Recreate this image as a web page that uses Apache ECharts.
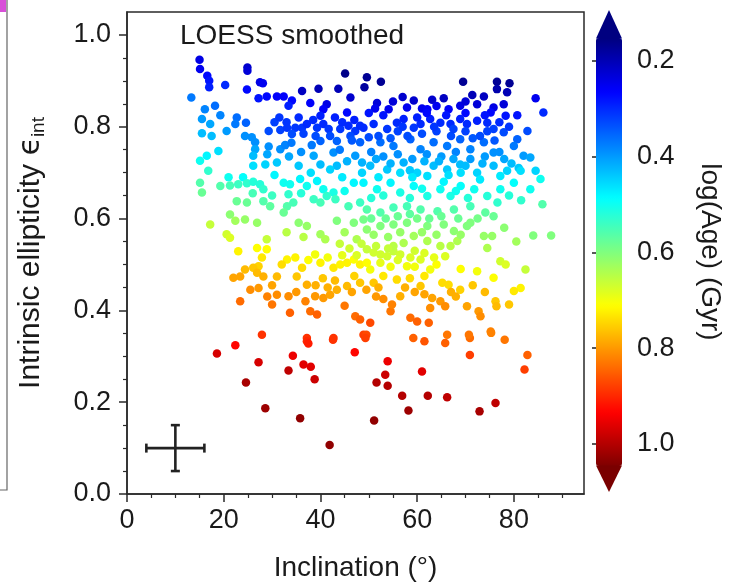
<!DOCTYPE html>
<html>
<head>
<meta charset="utf-8">
<script src="https://cdn.jsdelivr.net/npm/echarts@6/dist/echarts.min.js"></script>
<style>html,body{margin:0;padding:0;background:#fff;}#c{width:729px;height:587px;}</style>
</head>
<body>
<div id="c"></div>
<script>
// [inclination (deg), intrinsic ellipticity, log(Age) (Gyr)]
const bandDarkBlue = [
[15.0,0.946,0.24],[15.1,0.926,0.25],[16.6,0.911,0.27],[17.0,0.900,0.28],[17.0,0.886,0.29],[13.3,0.864,0.37],[20.3,0.891,0.30],[24.9,0.929,0.22],[24.9,0.922,0.23],[24.8,0.881,0.27],[27.5,0.897,0.24],[28.1,0.895,0.25],[27.2,0.862,0.28],[28.9,0.866,0.27],[31.0,0.866,0.26],[32.4,0.866,0.26],[36.2,0.878,0.21],[39.6,0.883,0.20],[43.7,0.883,0.20],[45.1,0.916,0.16],[46.2,0.864,0.22],[49.1,0.886,0.18],[49.6,0.908,0.17],[34.1,0.857,0.27],[33.4,0.846,0.29],[37.9,0.852,0.26],[41.3,0.849,0.24],[40.6,0.838,0.26],[45.5,0.831,0.27],[40.0,0.824,0.29],
[52.5,0.898,0.17],[69.5,0.898,0.17],[76.5,0.898,0.17],[79.1,0.895,0.17],[76.5,0.882,0.19],[78.6,0.875,0.20],[84.5,0.862,0.25],[86.1,0.831,0.30],[71.4,0.869,0.20],[73.8,0.866,0.21],[59.3,0.857,0.22],[63.1,0.859,0.22],[65.5,0.862,0.21],[51.7,0.852,0.23],[51.3,0.840,0.25],[54.1,0.838,0.25],[57.9,0.842,0.25],[61.0,0.840,0.25],[62.1,0.838,0.26],[66.5,0.838,0.26],[68.9,0.846,0.24],[72.4,0.849,0.23],[77.9,0.849,0.23],[75.8,0.842,0.24],[80.7,0.825,0.28],[75.2,0.831,0.27],[78.3,0.824,0.28],
[55.0,0.855,0.23],[57.0,0.865,0.22],[64.0,0.845,0.25],[70.0,0.855,0.23]
];
const bandBlue = [
[18.2,0.846,0.36],[16.1,0.838,0.38],[19.3,0.825,0.38],[15.5,0.817,0.40],[17.2,0.806,0.41],[22.7,0.820,0.36],[22.4,0.806,0.37],[24.6,0.809,0.35],[20.6,0.791,0.40],[15.5,0.786,0.43],[17.5,0.780,0.43],[24.4,0.780,0.39],[25.8,0.777,0.39],[29.3,0.791,0.33],[31.7,0.793,0.32],[33.1,0.798,0.31],[34.8,0.798,0.31],[36.2,0.798,0.31],[34.1,0.784,0.33],[37.2,0.806,0.30],[39.3,0.798,0.31],[40.6,0.806,0.30],[41.7,0.795,0.31],[44.1,0.795,0.31],[45.8,0.802,0.30],[47.2,0.791,0.31],[48.9,0.798,0.30],[26.5,0.766,0.39],[26.5,0.751,0.41],[29.3,0.757,0.39],[31.7,0.751,0.39],[32.7,0.760,0.38],[38.2,0.760,0.37],[40.0,0.769,0.35],[43.4,0.769,0.35],[46.2,0.780,0.33],[48.2,0.766,0.35],[50.0,0.777,0.33],[18.9,0.747,0.46],[16.5,0.737,0.48],[15.1,0.726,0.50],[26.1,0.737,0.43],[28.6,0.718,0.45],[31.0,0.722,0.44],[38.6,0.737,0.41],[40.0,0.718,0.43],[42.7,0.744,0.39],[43.4,0.715,0.43],[47.2,0.737,0.40],[48.6,0.722,0.42],[16.8,0.704,0.53],[26.1,0.715,0.46],[21.0,0.690,0.50],[24.0,0.690,0.49],
[48.2,0.802,0.30],[51.0,0.806,0.30],[53.8,0.795,0.31],[55.8,0.809,0.30],[57.2,0.817,0.29],[59.3,0.798,0.31],[60.7,0.806,0.30],[62.7,0.817,0.29],[64.8,0.809,0.30],[66.9,0.806,0.30],[68.9,0.817,0.29],[70.3,0.806,0.30],[72.4,0.813,0.29],[74.5,0.809,0.30],[75.8,0.795,0.32],[77.9,0.788,0.33],[80.7,0.773,0.35],[82.8,0.791,0.33],[52.4,0.766,0.36],[55.1,0.758,0.37],[58.6,0.773,0.35],[60.7,0.751,0.38],[63.4,0.766,0.36],[66.2,0.758,0.37],[68.9,0.773,0.35],[71.0,0.751,0.38],[73.8,0.766,0.36],[75.8,0.744,0.39],[80.0,0.758,0.37],[82.0,0.737,0.40],[50.3,0.715,0.43],[53.8,0.707,0.44],[57.2,0.722,0.42],[60.0,0.700,0.45],[63.4,0.715,0.43],[66.2,0.707,0.44],[68.9,0.718,0.43],[72.4,0.700,0.45],[75.8,0.715,0.43],[78.6,0.704,0.45],[83.4,0.733,0.41],[84.5,0.704,0.45],
[30.5,0.810,0.32],[35.5,0.820,0.30],[38.5,0.815,0.30],[43.0,0.820,0.29],[47.0,0.815,0.29],[50.0,0.830,0.28],[53.0,0.825,0.28],[56.0,0.790,0.32],[58.0,0.780,0.33],[61.0,0.785,0.33],[64.0,0.790,0.32],[67.0,0.780,0.33],[70.0,0.790,0.32],[73.0,0.780,0.33],[76.0,0.770,0.34],[79.0,0.800,0.31],[62.0,0.830,0.27],[66.0,0.825,0.28],[70.0,0.830,0.27],[74.0,0.825,0.28],[44.0,0.750,0.37],[36.0,0.745,0.39],[34.0,0.765,0.37],[50.5,0.745,0.38],[53.0,0.735,0.39],[56.0,0.740,0.39],[59.0,0.730,0.40],[62.0,0.740,0.39],[65.0,0.735,0.40],[68.0,0.745,0.38],[71.0,0.730,0.40],[74.0,0.735,0.40],[78.0,0.730,0.41],[81.0,0.710,0.44],
[31.5,0.820,0.31],[33.0,0.810,0.31],[36.5,0.785,0.32],[39.0,0.780,0.33],[42.0,0.780,0.33],[44.5,0.810,0.30],[46.5,0.770,0.34],[52.0,0.780,0.33],[54.5,0.775,0.34],[57.0,0.800,0.31],[60.0,0.820,0.29],[63.5,0.800,0.31],[67.5,0.795,0.32],[71.5,0.775,0.34],[74.5,0.790,0.32],[77.0,0.810,0.30],
[29.0,0.740,0.41],[33.5,0.735,0.41],[35.5,0.715,0.44],[45.5,0.725,0.42],[51.5,0.730,0.41],[54.5,0.720,0.42],[58.5,0.705,0.44],[61.5,0.725,0.42],[64.5,0.725,0.42],[67.5,0.730,0.41],[70.0,0.715,0.43],[73.5,0.720,0.42],[77.0,0.745,0.39],[79.5,0.720,0.43]
];
const bandCyan = [
[15.1,0.678,0.56],[15.5,0.657,0.58],[19.3,0.671,0.56],[21.3,0.672,0.55],[23.0,0.675,0.54],[24.8,0.677,0.53],[26.1,0.680,0.52],[27.5,0.675,0.52],[28.2,0.664,0.53],[32.4,0.678,0.50],[33.7,0.675,0.50],[35.8,0.686,0.48],[37.2,0.671,0.50],[33.4,0.653,0.53],[39.3,0.682,0.48],[40.6,0.664,0.50],[42.7,0.657,0.51],[42.0,0.707,0.45],[46.9,0.678,0.48],[48.6,0.700,0.45],[22.7,0.638,0.58],[24.8,0.635,0.58],[28.2,0.638,0.56],[29.6,0.627,0.57],[33.1,0.627,0.56],[32.4,0.613,0.58],[34.4,0.635,0.55],[38.6,0.642,0.54],[40.0,0.635,0.55],[41.3,0.649,0.53],[43.1,0.642,0.54],[45.8,0.627,0.55],[48.2,0.635,0.54],
[85.5,0.686,0.50],[85.9,0.631,0.56],[49.6,0.620,0.56],[52.4,0.613,0.56],[55.1,0.624,0.55],[57.9,0.627,0.55],[60.7,0.620,0.56],[64.2,0.616,0.56],[67.6,0.620,0.56],[71.0,0.627,0.55],[74.1,0.613,0.57],[75.8,0.605,0.58],[48.9,0.678,0.48],[51.7,0.664,0.50],[54.5,0.678,0.48],[56.5,0.657,0.51],[59.3,0.671,0.49],[62.1,0.649,0.51],[64.8,0.664,0.50],[66.9,0.649,0.51],[69.0,0.671,0.49],[71.8,0.664,0.50],[74.5,0.649,0.52],[76.6,0.635,0.53],[77.2,0.664,0.50],[80.0,0.678,0.49],[83.4,0.664,0.50],[56.5,0.700,0.46],[62.1,0.693,0.46],[69.0,0.700,0.46],[77.2,0.693,0.47],[81.4,0.704,0.46],
[45.0,0.660,0.50],[50.5,0.645,0.52],[53.0,0.650,0.52],[58.5,0.645,0.52],[61.0,0.665,0.50],[65.5,0.680,0.48],[68.0,0.660,0.50],[70.5,0.645,0.52],[73.0,0.685,0.47],[79.0,0.650,0.52],[81.5,0.640,0.53],[52.0,0.690,0.47],[59.0,0.690,0.47],[66.5,0.695,0.46],[30.5,0.695,0.48],[38.0,0.700,0.46],[44.5,0.690,0.47],[36.0,0.655,0.52],[30.0,0.650,0.54],[26.0,0.655,0.55]
];
const bandGreen = [
[17.2,0.587,0.66],[21.3,0.609,0.61],[24.4,0.598,0.62],[26.9,0.591,0.62],[22.4,0.595,0.63],[20.6,0.566,0.67],[21.3,0.558,0.68],[28.9,0.555,0.66],[35.5,0.591,0.61],[37.2,0.584,0.62],[40.0,0.566,0.63],[41.0,0.555,0.64],[43.4,0.595,0.60],[46.9,0.591,0.60],[48.9,0.598,0.59],
[84.0,0.563,0.60],[87.7,0.563,0.60],[71.0,0.591,0.60],[73.8,0.562,0.62],[75.5,0.562,0.62],[74.5,0.536,0.64],[49.6,0.576,0.61],[52.4,0.584,0.60],[55.1,0.587,0.60],[57.9,0.591,0.60],[62.1,0.584,0.60],[65.5,0.587,0.60],[67.6,0.573,0.61],[70.3,0.584,0.60],[49.6,0.533,0.66],[51.0,0.526,0.67],[52.4,0.522,0.67],[53.8,0.518,0.67],[55.1,0.529,0.66],[56.5,0.522,0.67],[58.6,0.515,0.68],[60.7,0.511,0.68],[62.7,0.489,0.70],[57.9,0.496,0.70],[52.4,0.504,0.69],[50.3,0.489,0.70],[55.1,0.540,0.65],[57.2,0.547,0.64],[59.3,0.562,0.63],[62.1,0.551,0.64],[64.8,0.540,0.65],[66.9,0.540,0.65],[68.3,0.551,0.64],
[45.0,0.570,0.63],[47.5,0.555,0.64],[44.0,0.545,0.66],[60.0,0.600,0.59],[64.0,0.565,0.62],[78.0,0.580,0.61],[80.5,0.550,0.63],[33.0,0.570,0.65],[36.5,0.560,0.65],
[50.5,0.600,0.58],[53.5,0.600,0.58],[56.0,0.605,0.58],[58.5,0.610,0.57],[62.5,0.600,0.58],[65.0,0.605,0.58],[68.5,0.600,0.58],[72.5,0.600,0.59],[51.0,0.565,0.62],[54.0,0.560,0.62],[56.5,0.570,0.62],[61.0,0.570,0.62],[69.0,0.565,0.62]
];
const bandYellow = [
[23.0,0.529,0.72],[26.9,0.536,0.71],[28.9,0.533,0.71],[27.9,0.515,0.73],[27.2,0.496,0.75],[33.1,0.511,0.72],[34.8,0.515,0.72],[36.2,0.493,0.74],[38.9,0.522,0.70],[40.0,0.504,0.72],[42.7,0.493,0.73],[44.1,0.500,0.72],[45.5,0.504,0.72],[46.9,0.511,0.71],[48.2,0.500,0.72],[49.6,0.504,0.71],[22.0,0.471,0.79],[23.4,0.474,0.79],[24.4,0.489,0.77],[26.1,0.493,0.76],[26.9,0.482,0.77],[28.2,0.474,0.78],[31.0,0.474,0.77],[35.1,0.474,0.76],[37.2,0.456,0.78],
[82.4,0.489,0.66],[77.2,0.507,0.67],[78.3,0.500,0.68],[81.4,0.449,0.72],[80.0,0.442,0.73],[72.4,0.485,0.70],[75.8,0.471,0.71],[65.8,0.518,0.68],[65.2,0.460,0.74],[66.5,0.456,0.74],[68.9,0.445,0.75],[60.7,0.453,0.76],[55.8,0.467,0.74],[56.5,0.431,0.78],
[53.0,0.475,0.73],[58.5,0.470,0.74],[61.5,0.475,0.73],[64.0,0.500,0.71],[69.0,0.490,0.71],[47.0,0.475,0.75],[51.0,0.460,0.76],[43.0,0.465,0.77],[40.5,0.470,0.76],[32.0,0.500,0.74],[30.0,0.455,0.79],
[46.0,0.535,0.67],[47.5,0.520,0.68],[48.5,0.545,0.66],[51.5,0.540,0.66],[54.0,0.535,0.66],[56.0,0.510,0.68],[59.5,0.530,0.67],[61.5,0.525,0.68],[63.5,0.515,0.69],[54.5,0.495,0.70],[59.5,0.495,0.70],[44.5,0.520,0.69],[41.5,0.515,0.70],[37.5,0.510,0.71]
];
const bandOrange = [
[27.2,0.449,0.80],[31.0,0.434,0.81],[30.0,0.413,0.83],[33.4,0.431,0.81],[23.4,0.420,0.84],[36.9,0.420,0.82],[38.9,0.431,0.80],[40.6,0.427,0.80],[42.0,0.434,0.79],[43.4,0.445,0.78],[45.5,0.453,0.77],[48.2,0.460,0.76],[33.7,0.395,0.85],[37.9,0.398,0.84],[39.3,0.391,0.85],[47.2,0.387,0.84],[48.2,0.380,0.85],
[76.2,0.420,0.76],[76.4,0.409,0.77],[79.0,0.413,0.76],[70.3,0.409,0.79],[72.7,0.398,0.80],[73.1,0.387,0.81],[63.1,0.427,0.79],[64.8,0.420,0.80],[65.8,0.409,0.81],[62.7,0.405,0.81],[58.6,0.384,0.84],[60.0,0.376,0.85],[62.4,0.373,0.85],[50.3,0.373,0.87],[54.5,0.398,0.83],[54.8,0.413,0.82],
[51.5,0.430,0.80],[52.0,0.450,0.78],[45.0,0.410,0.83],[68.0,0.430,0.78],
[39.0,0.455,0.78],[41.5,0.450,0.78],[46.5,0.440,0.79],[49.5,0.445,0.79],[53.0,0.425,0.81],[57.5,0.450,0.78],[59.5,0.440,0.79],[61.5,0.435,0.79],[67.0,0.440,0.78],[71.5,0.455,0.76],[74.0,0.440,0.77],[35.0,0.440,0.80],[29.0,0.430,0.82],[25.5,0.445,0.81]
];
const bandRed = [
[27.9,0.347,0.89],[37.2,0.340,0.89],[42.7,0.340,0.89],[48.9,0.347,0.88],[22.4,0.324,0.93],[18.6,0.306,0.97],[27.2,0.287,0.97],[24.6,0.243,1.01],[28.6,0.187,1.02],[33.4,0.269,0.99],[34.3,0.301,0.95],[36.5,0.282,0.96],[38.0,0.277,0.96],[37.2,0.333,0.90],[37.5,0.328,0.91],[38.8,0.250,0.98],[35.8,0.165,1.03],[42.6,0.336,0.89],[41.9,0.107,1.03],[47.1,0.309,0.93],[49.5,0.347,0.87],[49.3,0.340,0.88],[53.9,0.289,0.95],[53.4,0.260,0.98],[51.6,0.243,1.00],[53.9,0.236,1.00],[51.1,0.160,1.03],[56.9,0.214,1.00],[58.2,0.182,1.02],[61.0,0.267,0.96],[62.2,0.214,1.00],[66.2,0.211,0.99],[72.9,0.180,1.01],[76.2,0.198,0.99],[59.2,0.340,0.85],[61.5,0.333,0.86],[66.2,0.347,0.83],[65.8,0.329,0.85],[70.9,0.340,0.84],[70.9,0.303,0.88],[75.3,0.351,0.82],[78.1,0.336,0.83],[82.8,0.303,0.85],[82.2,0.271,0.88],[70.7,0.347,0.83],[75.2,0.354,0.82]
];
// typical uncertainty cross
const errX = [10];
const errY = [0.1];
const errDx = [6];
const errDy = [0.05];

const xMajorTicks = [0, 20, 40, 60, 80];
const xMinorTicks = [5, 10, 15, 25, 30, 35, 45, 50, 55, 65, 70, 75, 85, 90];
const yMajorTicks = [0, 0.2, 0.4, 0.6, 0.8, 1.0];
const yMinorTicks = [0.05, 0.1, 0.15, 0.25, 0.3, 0.35, 0.45, 0.5, 0.55, 0.65, 0.7, 0.75, 0.85, 0.9, 0.95];
const cbTicks = [0.2, 0.4, 0.6, 0.8, 1.0];

const points = [].concat(bandDarkBlue, bandBlue, bandCyan, bandGreen, bandYellow, bandOrange, bandRed);
const errorBars = errX.map((x, i) => [x, errY[i], errDx[i], errDy[i]]);

const FONT = '"Liberation Sans", Arial, Helvetica, sans-serif';
const TXT = '#1a1a1a';
const AX = '#2a2a2a';
const jet = ['#00007F','#0000FF','#007FFF','#00FFFF','#7FFF7F','#FFFF00','#FF7F00','#FF0000','#7F0000'];
const CB = {left: 596, top: 38, width: 26, height: 428, min: 0.152, max: 1.046};

const chart = echarts.init(document.getElementById('c'), null, {renderer: 'canvas'});
chart.setOption({
  animation: false,
  backgroundColor: '#fff',
  textStyle: {fontFamily: FONT, color: TXT},
  grid: [
    {left: 127, top: 12, width: 457, height: 482, show: true, borderColor: AX, borderWidth: 1.5, backgroundColor: 'transparent'},
    {left: CB.left, top: CB.top, width: CB.width, height: CB.height, show: false}
  ],
  xAxis: [
    {gridIndex: 0, type: 'value', position: 'bottom', min: 0, max: 94.5,
      name: 'Inclination (°)', nameLocation: 'middle', nameGap: 60,
      nameTextStyle: {fontSize: 28, color: TXT, fontFamily: FONT},
      axisLine: {show: true, lineStyle: {color: AX, width: 1.5}},
      axisTick: {show: true, length: 8, customValues: xMajorTicks, lineStyle: {color: AX, width: 1.5}},
      axisLabel: {customValues: xMajorTicks, fontSize: 27, color: TXT, margin: 13, fontFamily: FONT},
      splitLine: {show: false}},
    {gridIndex: 0, type: 'value', position: 'bottom', min: 0, max: 94.5,
      axisLine: {show: false},
      axisTick: {show: true, length: 4, customValues: xMinorTicks, lineStyle: {color: AX, width: 1.2}},
      axisLabel: {show: false}, splitLine: {show: false}},
    {gridIndex: 1, type: 'value', show: false, min: 0, max: 1}
  ],
  yAxis: [
    {gridIndex: 0, type: 'value', position: 'left', min: 0, max: 1.05,
      name: 'Intrinsic ellipticity {eps|ϵ}{sub|int}', nameLocation: 'middle', nameGap: 79,
      nameTextStyle: {fontSize: 30, color: TXT, fontFamily: FONT,
        rich: {eps: {fontSize: 30, fontFamily: '"DejaVu Sans", sans-serif', color: TXT},
               sub: {fontSize: 19, color: TXT, fontFamily: FONT, padding: [15, 0, 0, 0]}}},
      axisLine: {show: true, lineStyle: {color: AX, width: 1.5}},
      axisTick: {show: true, length: 8, customValues: yMajorTicks, lineStyle: {color: AX, width: 1.5}},
      axisLabel: {customValues: yMajorTicks, fontSize: 27, color: TXT, margin: 16, fontFamily: FONT,
        formatter: v => v.toFixed(1)},
      splitLine: {show: false}},
    {gridIndex: 0, type: 'value', position: 'left', min: 0, max: 1.05,
      axisLine: {show: false},
      axisTick: {show: true, length: 4, customValues: yMinorTicks, lineStyle: {color: AX, width: 1.2}},
      axisLabel: {show: false}, splitLine: {show: false}},
    {gridIndex: 1, type: 'value', position: 'right', inverse: true, min: CB.min, max: CB.max, z: 10,
      name: 'log(Age) (Gyr)', nameLocation: 'middle', nameRotate: -90, nameGap: 74,
      nameTextStyle: {fontSize: 28, color: TXT, fontFamily: FONT},
      axisLine: {show: false},
      axisTick: {show: true, inside: true, length: 4, customValues: cbTicks, lineStyle: {color: '#222', width: 1.5}},
      axisLabel: {customValues: cbTicks, fontSize: 27, color: TXT, margin: 15, fontFamily: FONT,
        formatter: v => v.toFixed(1)},
      splitLine: {show: false}}
  ],
  visualMap: [{
    type: 'continuous', seriesIndex: 0, dimension: 2, min: CB.min, max: CB.max,
    orient: 'vertical', inverse: true, calculable: false, hoverLink: false,
    left: CB.left, top: CB.top, itemWidth: CB.width, itemHeight: CB.height, padding: 0,
    inRange: {color: jet}, z: 4
  }],
  graphic: [
    {type: 'polygon', z: 5, shape: {points: [[CB.left, CB.top + 0.5], [CB.left + CB.width, CB.top + 0.5], [CB.left + CB.width / 2, CB.top - 28]]}, style: {fill: '#000080'}},
    {type: 'polygon', z: 5, shape: {points: [[CB.left, CB.top + CB.height - 0.5], [CB.left + CB.width, CB.top + CB.height - 0.5], [CB.left + CB.width / 2, CB.top + CB.height + 26]]}, style: {fill: '#7A0000'}},
    {type: 'text', left: 180, top: 22, z: 10, style: {text: 'LOESS smoothed', fontSize: 28, fill: TXT, fontFamily: FONT}},
    {type: 'rect', z: 1, shape: {x: -4, y: -2, width: 11, height: 492}, style: {fill: 'none', stroke: '#666', lineWidth: 1.2}},
    {type: 'rect', z: 1, shape: {x: 0, y: 0, width: 6, height: 12}, style: {fill: '#d84fd8'}}
  ],
  series: [
    {type: 'scatter', xAxisIndex: 0, yAxisIndex: 0, data: points, symbolSize: 8.5,
      itemStyle: {opacity: 1}, emphasis: {disabled: true}, z: 3},
    {type: 'custom', xAxisIndex: 0, yAxisIndex: 0, data: errorBars, z: 4, silent: true,
      renderItem: function (params, api) {
        const x = api.value(0), y = api.value(1), dx = api.value(2), dy = api.value(3);
        const l = api.coord([x - dx, y]), r = api.coord([x + dx, y]);
        const t = api.coord([x, y + dy]), b = api.coord([x, y - dy]);
        const cap = 4.5;
        const st = {stroke: '#222', lineWidth: 2.6};
        const ln = (x1, y1, x2, y2) => ({type: 'line', shape: {x1, y1, x2, y2}, style: st});
        return {type: 'group', children: [
          ln(l[0], l[1], r[0], r[1]), ln(t[0], t[1], b[0], b[1]),
          ln(l[0], l[1] - cap, l[0], l[1] + cap), ln(r[0], r[1] - cap, r[0], r[1] + cap),
          ln(t[0] - cap, t[1], t[0] + cap, t[1]), ln(b[0] - cap, b[1], b[0] + cap, b[1])
        ]};
      }}
  ]
});
</script>
</body>
</html>
